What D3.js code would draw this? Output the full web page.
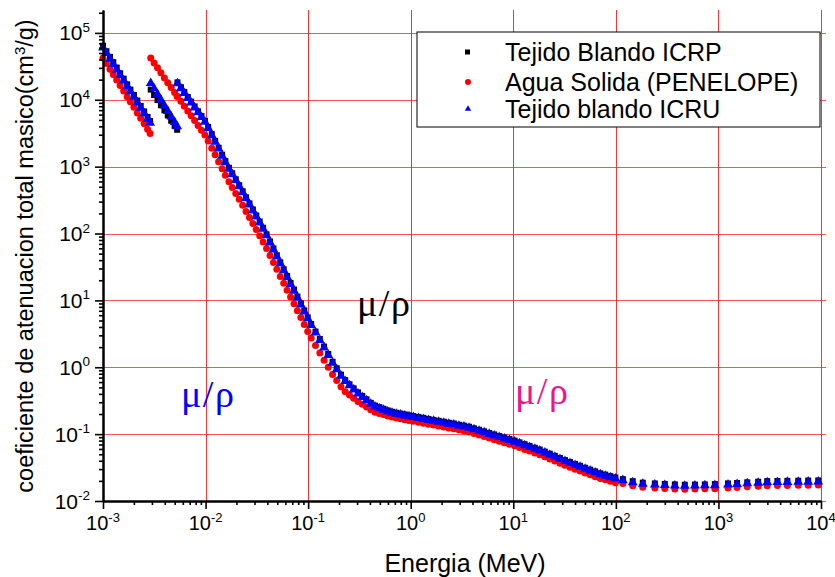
<!DOCTYPE html>
<html>
<head>
<meta charset="utf-8">
<script src="https://cdn.jsdelivr.net/npm/d3@7"></script>
<style>
  body { margin: 0; background: #fff; }
  text { font-family: "Liberation Sans", Arial, sans-serif; fill: #000; }
</style>
</head>
<body>
<div id="viz"></div>
<script>
// energias (MeV) - mismo mallado para las tres series
var energia = [
  1.00e-3, 1.08e-3, 1.17e-3, 1.26e-3, 1.36e-3, 1.47e-3, 1.59e-3, 1.72e-3, 1.85e-3, 2.00e-3, 2.16e-3, 2.33e-3, 2.52e-3, 2.72e-3, 2.88e-3,
  2.92e-3, 3.15e-3, 3.40e-3, 3.67e-3, 3.97e-3, 4.28e-3, 4.62e-3, 4.99e-3, 5.28e-3,
  5.32e-3, 5.75e-3, 6.21e-3, 6.71e-3, 7.24e-3, 7.82e-3, 8.45e-3, 9.12e-3, 9.85e-3,
  1.06e-2, 1.15e-2, 1.24e-2, 1.34e-2, 1.45e-2, 1.56e-2, 1.69e-2, 1.82e-2, 1.97e-2,
  2.13e-2, 2.30e-2, 2.48e-2, 2.68e-2, 2.89e-2, 3.12e-2, 3.37e-2, 3.64e-2, 3.93e-2,
  4.25e-2, 4.59e-2, 4.95e-2, 5.35e-2, 5.78e-2, 6.24e-2, 6.74e-2, 7.28e-2, 7.86e-2, 8.49e-2, 9.17e-2, 9.90e-2,
  0.107, 0.118, 0.130, 0.143, 0.157, 0.173, 0.190, 0.209, 0.230, 0.253, 0.278, 0.306,
  0.337, 0.371, 0.408, 0.449, 0.494, 0.543, 0.597, 0.657, 0.723, 0.795, 0.875, 0.962,
  1.06, 1.19, 1.33, 1.49, 1.67, 1.87, 2.10, 2.35, 2.63, 2.95, 3.30, 3.70, 4.14, 4.64, 5.20, 5.82, 6.52, 7.30, 8.18, 9.16,
  10.3, 11.5, 12.9, 14.4, 16.2, 18.1, 20.3, 22.7, 25.4, 28.5, 31.9, 35.7, 40.0, 44.8, 50.2, 56.2, 62.9, 70.5, 78.9, 88.4, 99.0,
  117, 146, 183, 240, 300, 376, 470, 590, 737, 923, 1240, 1520, 1910, 2440, 2990, 3760, 4700, 6000, 7500, 9400
];

// Tejido Blando ICRP (cm3/g)
var icrp = [
  64200, 53200, 43800, 36500, 30300, 24900, 20700, 17000, 14200, 11800, 9730, 8090, 6680, 5530, 4800,
  14200, 11800, 9900, 8300, 6960, 5830, 4860, 4070, 3560,
  18200, 15400, 13050, 11000, 9380, 7950, 6720, 5700, 4840,
  3920, 3060, 2430, 1920, 1510, 1210, 962, 795, 647,
  528, 428, 348, 282, 229, 186, 151, 122, 97.3,
  76.2, 59.9, 47.3, 37.1, 29.2, 23.1, 18.2, 14.5, 11.4, 9.0, 7.08, 5.57,
  4.43, 3.42, 2.64, 2.04, 1.58, 1.21, 0.966, 0.774, 0.642, 0.556, 0.483, 0.420,
  0.372, 0.331, 0.293, 0.267, 0.253, 0.239, 0.226, 0.216, 0.209, 0.203, 0.197, 0.191,
  0.186, 0.180, 0.175, 0.168, 0.163, 0.158, 0.153, 0.148, 0.144, 0.138, 0.134, 0.129, 0.122, 0.116, 0.110, 0.104, 0.0989, 0.0938, 0.0890, 0.0844,
  0.0799, 0.0752, 0.0706, 0.0666, 0.0624, 0.0588, 0.0547, 0.0509, 0.0473, 0.0439, 0.0409, 0.0382, 0.0358, 0.0336, 0.0314, 0.0294, 0.0277, 0.0259, 0.0248, 0.0235, 0.0225,
  0.0212, 0.0198, 0.0188, 0.0183, 0.0180, 0.0177, 0.0175, 0.0176, 0.0177, 0.0179, 0.0183, 0.0186, 0.0190, 0.0194, 0.0198, 0.0199, 0.0200, 0.0201, 0.0202, 0.0203
];

// Agua Solida (PENELOPE)
var penelope = [
  42000, 34800, 28600, 23900, 19800, 16300, 13500, 11100, 9310, 7700, 6360, 5290, 4370, 3620, 3140,
  42000, 35500, 30000, 25300, 21200, 18000, 15200, 12800, 11300,
  11200, 9470, 8030, 6780, 5770, 4890, 4130, 3510, 2980,
  2410, 1880, 1500, 1180, 928, 742, 592, 489, 398,
  325, 264, 214, 173, 141, 115, 92.8, 74.9, 59.9,
  46.9, 36.9, 29.1, 22.8, 18.0, 14.2, 11.2, 8.9, 7.01, 5.54, 4.36, 3.43,
  2.73, 2.11, 1.63, 1.27, 1.00, 0.777, 0.632, 0.513, 0.432, 0.385, 0.343, 0.307,
  0.279, 0.254, 0.231, 0.213, 0.204, 0.196, 0.187, 0.181, 0.175, 0.170, 0.164, 0.160,
  0.156, 0.151, 0.146, 0.141, 0.137, 0.132, 0.128, 0.124, 0.120, 0.116, 0.112, 0.108, 0.102, 0.0969, 0.0920, 0.0873, 0.0827, 0.0785, 0.0745, 0.0706,
  0.0668, 0.0629, 0.0591, 0.0557, 0.0522, 0.0492, 0.0458, 0.0425, 0.0396, 0.0367, 0.0342, 0.0319, 0.0299, 0.0281, 0.0263, 0.0246, 0.0231, 0.0217, 0.0207, 0.0197, 0.0188,
  0.0182, 0.0169, 0.0161, 0.0156, 0.0154, 0.0151, 0.0150, 0.0151, 0.0152, 0.0153, 0.0156, 0.0159, 0.0163, 0.0166, 0.0169, 0.0170, 0.0171, 0.0172, 0.0172, 0.0173
];

// Tejido blando ICRU
var icru = [
  60000, 49700, 40900, 34100, 28300, 23300, 19300, 15900, 13300, 11000, 9090, 7560, 6240, 5170, 4490,
  17700, 14600, 12100, 9970, 8190, 6780, 5590, 4620, 4000,
  17500, 14800, 12550, 10600, 9020, 7640, 6460, 5480, 4650,
  3770, 2940, 2340, 1850, 1450, 1160, 925, 764, 622,
  508, 412, 335, 271, 220, 179, 145, 117, 93.6,
  73.3, 57.6, 45.5, 35.7, 28.1, 22.2, 17.5, 13.9, 10.96, 8.65, 6.81, 5.36,
  4.26, 3.29, 2.54, 1.96, 1.52, 1.16, 0.929, 0.744, 0.617, 0.535, 0.464, 0.404,
  0.358, 0.318, 0.282, 0.257, 0.243, 0.230, 0.217, 0.208, 0.201, 0.195, 0.189, 0.184,
  0.179, 0.173, 0.168, 0.162, 0.157, 0.152, 0.147, 0.142, 0.138, 0.133, 0.129, 0.124, 0.1175, 0.1114, 0.1057, 0.1003, 0.0951, 0.0902, 0.0856, 0.0812,
  0.0768, 0.0723, 0.0679, 0.0640, 0.0600, 0.0565, 0.0526, 0.0489, 0.0455, 0.0422, 0.0393, 0.0367, 0.0344, 0.0323, 0.0302, 0.0283, 0.0266, 0.0249, 0.0238, 0.0226, 0.0216,
  0.0204, 0.0190, 0.01805, 0.01755, 0.01728, 0.01701, 0.01682, 0.01694, 0.01706, 0.01717, 0.01758, 0.01791, 0.01829, 0.01870, 0.0190, 0.0191, 0.0192, 0.01929, 0.01938, 0.01948
];

var xExps = [-3, -2, -1, 0, 1, 2, 3, 4];
var yExps = [-2, -1, 0, 1, 2, 3, 4, 5];
var serieNames = ["Tejido Blando ICRP", "Agua Solida (PENELOPE)", "Tejido blando ICRU"];

/***************** layout *********************/
var W = 835, H = 577,
    pL = 103, pR = 821, pT = 10, pB = 501,
    grid_color = "#ff1a1a";

var svg = d3.select("#viz")
    .append("svg")
    .attr("width", W)
    .attr("height", H);

var x = d3.scaleLog().domain([1e-3, 1e4]).range([pL, pR]);
var y = d3.scaleLog().domain([1e-2, 2.2e5]).range([pB, pT]);

var xMajor = xExps.map(function(e) { return Math.pow(10, e); });
var yMajor = yExps.map(function(e) { return Math.pow(10, e); });

/* grid */
var grid = svg.append("g").attr("class", "grid");
grid.selectAll(".vg").data(xMajor).enter().append("line")
    .attr("x1", function(d) { return Math.round(x(d)) + 0.5; })
    .attr("x2", function(d) { return Math.round(x(d)) + 0.5; })
    .attr("y1", pT).attr("y2", pB)
    .attr("stroke", grid_color).attr("stroke-width", 1).attr("opacity", 0.9);
grid.selectAll(".hg").data(yMajor).enter().append("line")
    .attr("x1", pL).attr("x2", pR + 5)
    .attr("y1", function(d) { return Math.round(y(d)) + 0.5; })
    .attr("y2", function(d) { return Math.round(y(d)) + 0.5; })
    .attr("stroke", grid_color).attr("stroke-width", 1).attr("opacity", 0.75);

/* series */
var pts = energia.map(function(e, i) {
  return { e: e, icrp: icrp[i], pen: penelope[i], icru: icru[i] };
});

svg.append("g").selectAll("rect").data(pts).enter().append("rect")
    .attr("x", function(d) { return x(d.e) - 3; })
    .attr("y", function(d) { return y(d.icrp) - 3; })
    .attr("width", 6).attr("height", 6)
    .attr("fill", "#000");

svg.append("g").selectAll("circle").data(pts).enter().append("circle")
    .attr("cx", function(d) { return x(d.e); })
    .attr("cy", function(d) { return y(d.pen); })
    .attr("r", 3.5)
    .attr("fill", "#ff0000");

var tri = d3.symbol().type(d3.symbolTriangle).size(42);
svg.append("g").selectAll("path").data(pts).enter().append("path")
    .attr("d", tri)
    .attr("transform", function(d) { return "translate(" + x(d.e) + "," + y(d.icru) + ")"; })
    .attr("fill", "#0000ff");

/* axes */
var xMinor = x.ticks().filter(function(d) { return xMajor.indexOf(d) < 0; });
var yMinor = y.ticks().filter(function(d) { return yMajor.indexOf(d) < 0 && d < 2.2e5; });

var gx = svg.append("g").attr("transform", "translate(0," + pB + ")");
gx.call(d3.axisBottom(x).tickValues(xMajor).tickSize(8).tickSizeOuter(0).tickFormat(""));
gx.append("g").call(d3.axisBottom(x).tickValues(xMinor).tickSize(4).tickSizeOuter(0).tickFormat(""))
  .select(".domain").remove();

var gy = svg.append("g").attr("transform", "translate(" + pL + ",0)");
gy.call(d3.axisLeft(y).tickValues(yMajor).tickSize(8).tickSizeOuter(0).tickFormat(""));
gy.append("g").call(d3.axisLeft(y).tickValues(yMinor).tickSize(4).tickSizeOuter(0).tickFormat(""))
  .select(".domain").remove();

svg.selectAll(".domain").attr("stroke", "#000").attr("stroke-width", 2.5);
svg.selectAll(".tick line").attr("stroke", "#000").attr("stroke-width", 1.6);

/* tick labels */
xExps.forEach(function(e) {
  var t = svg.append("text")
      .attr("x", x(Math.pow(10, e)))
      .attr("y", 530)
      .attr("text-anchor", "middle")
      .style("font-size", "20px");
  t.append("tspan").text("10");
  t.append("tspan").attr("dy", -8).style("font-size", "13px").text(e);
});
yExps.forEach(function(e) {
  var t = svg.append("text")
      .attr("x", 90)
      .attr("y", y(Math.pow(10, e)) + 7.5)
      .attr("text-anchor", "end")
      .style("font-size", "21px");
  t.append("tspan").text("10");
  t.append("tspan").attr("dy", -8.5).style("font-size", "13.5px").text(e);
});

/* axis titles */
svg.append("text")
    .attr("x", 465).attr("y", 572)
    .attr("text-anchor", "middle")
    .style("font-size", "25px")
    .text("Energia (MeV)");

var yt = svg.append("text")
    .attr("transform", "translate(33," + 256 + ") rotate(-90)")
    .attr("text-anchor", "middle")
    .style("font-size", "23.5px");
yt.append("tspan").text("coeficiente de atenuacion total masico(cm");
yt.append("tspan").attr("dy", -8).style("font-size", "15px").text("3");
yt.append("tspan").attr("dy", 8).text("/g)");

/* legend */
var lg = svg.append("g").attr("transform", "translate(417,32)");
lg.append("rect").attr("width", 403).attr("height", 95)
    .attr("fill", "#fff").attr("stroke", "#000").attr("stroke-width", 1);
var rowsY = [20, 50, 77];
lg.append("rect").attr("x", 48).attr("y", rowsY[0] - 2.5).attr("width", 5).attr("height", 5).attr("fill", "#000");
lg.append("circle").attr("cx", 51).attr("cy", rowsY[1]).attr("r", 3).attr("fill", "#ff0000");
lg.append("path").attr("d", d3.symbol().type(d3.symbolTriangle).size(18))
    .attr("transform", "translate(51," + rowsY[2] + ")").attr("fill", "#0000ff");
serieNames.forEach(function(n, i) {
  lg.append("text").attr("x", 88).attr("y", rowsY[i] + 9)
      .style("font-size", "25px").text(n);
});

/* annotations */
var notes = [
  { x: 181, y: 407, c: "#0000ff" },
  { x: 357, y: 316, c: "#000000" },
  { x: 515, y: 404, c: "#f0148c" }
];
svg.selectAll(".note").data(notes).enter().append("text")
    .attr("x", function(d) { return d.x; })
    .attr("y", function(d) { return d.y; })
    .style("font-family", "'Liberation Serif', 'Times New Roman', serif")
    .style("font-size", "38px")
    .style("letter-spacing", "1.5px")
    .style("fill", function(d) { return d.c; })
    .text("\u03bc/\u03c1");
</script>
</body>
</html>
